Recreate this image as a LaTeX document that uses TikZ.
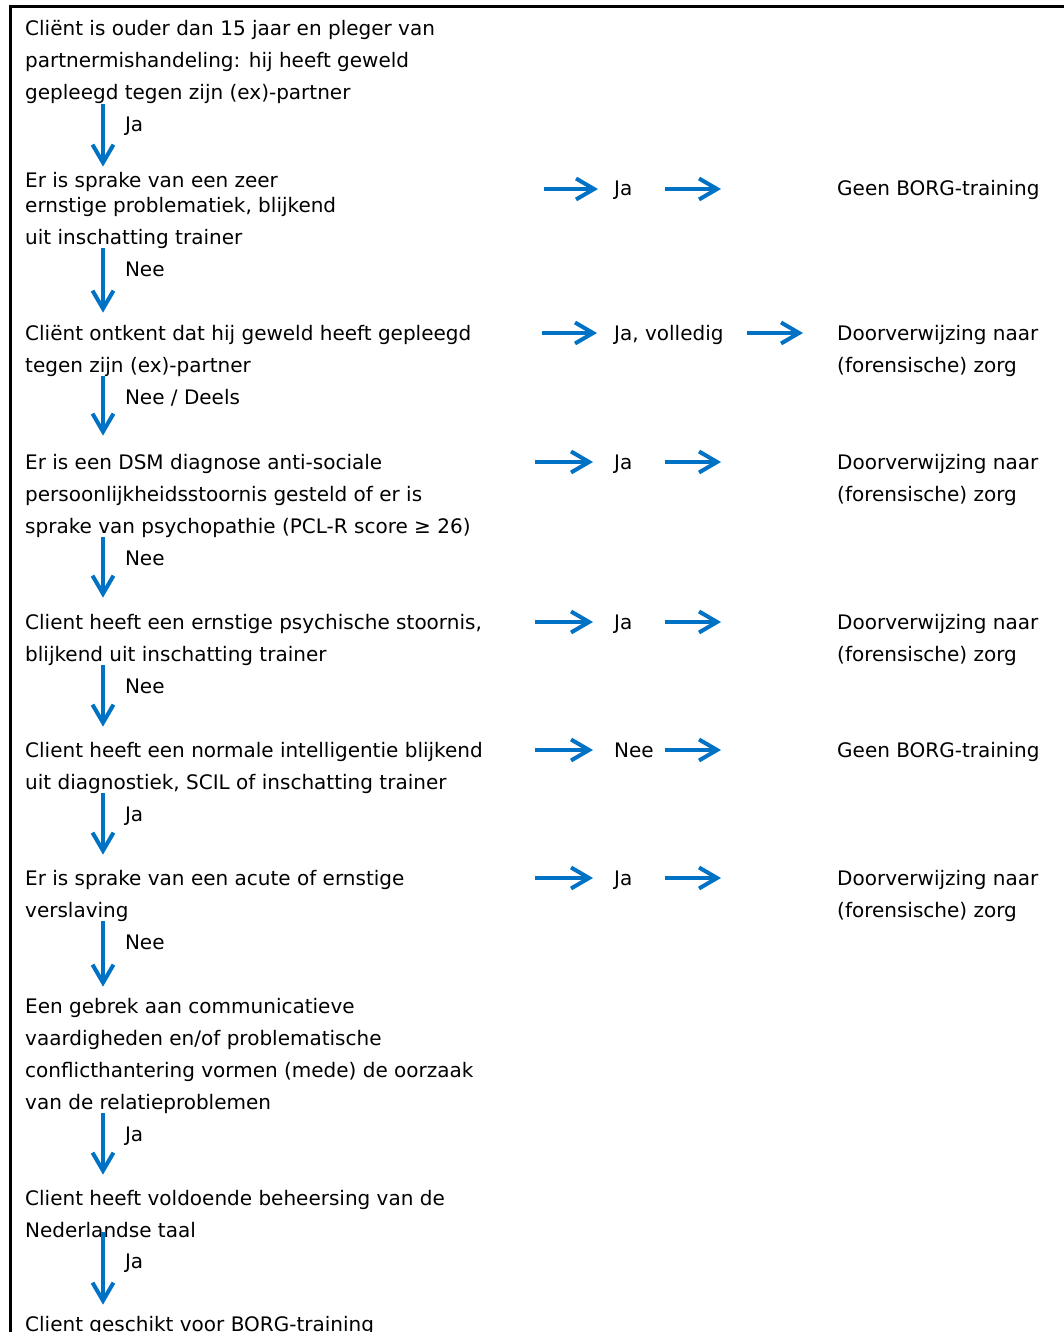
\documentclass[tikz,border=0pt]{standalone}
\usepackage{fontspec}
\setmainfont{DejaVu Sans}
\usetikzlibrary{arrows.meta,calc,positioning}
\definecolor{flowblue}{RGB}{0,114,198}
\tikzset{
    block/.style =  {anchor=base west,
                    align=left,
                    inner sep=0pt,
                    text=black,
                    font=\fontsize{20}{32}\selectfont},
    decision/.style={anchor=base west,
                    inner sep=0pt,
                    text=black,
                    text height=14pt,
                    text depth=0pt,
                    font=\fontsize{20}{32}\selectfont},
    outcome/.style ={block},
    answer/.style = {anchor=base west,
                    inner sep=0pt,
                    xshift=20pt,
                    text=black,
                    font=\fontsize{20}{32}\selectfont},
    -,
    flow/.style =   {draw=flowblue,
                    line width=4pt,
                    -{Straight Barb[length=18pt,width=21pt]}},
    downflow/.style={flow,
                    shorten >=#1},
    downflow/.default=15pt,
    boxline/.style ={draw=black,
                    line width=3pt}}

\begin{document}
\begin{tikzpicture}[x=1pt,y=-1pt]
    \useasboundingbox (0,0) rectangle (1064,1332);
    \draw[boxline] (10.5,1345) |- (1070,6.5);

    \node[block] (b1) at (25,100)  {Cliënt is ouder dan 15 jaar en pleger van\\partnermishandeling: hij heeft geweld\\gepleegd tegen zijn (ex)-partner};
    \node[block] (b2) at (25,244)  {Er is sprake van een zeer\\[-7pt]ernstige problematiek, blijkend\\uit inschatting trainer};
    \node[block] (b3) at (25,372)  {Cliënt ontkent dat hij geweld heeft gepleegd\\tegen zijn (ex)-partner};
    \node[block] (b4) at (25,533)  {Er is een DSM diagnose anti-sociale\\persoonlijkheidsstoornis gesteld of er is\\sprake van psychopathie (PCL-R score ≥ 26)};
    \node[block] (b5) at (25,661)  {Client heeft een ernstige psychische stoornis,\\blijkend uit inschatting trainer};
    \node[block] (b6) at (25,789)  {Client heeft een normale intelligentie blijkend\\uit diagnostiek, SCIL of inschatting trainer};
    \node[block] (b7) at (25,917)  {Er is sprake van een acute of ernstige\\verslaving};
    \node[block] (b8) at (25,1109) {Een gebrek aan communicatieve\\vaardigheden en/of problematische\\conflicthantering vormen (mede) de oorzaak\\van de relatieproblemen};
    \node[block] (b9) at (25,1237) {Client heeft voldoende beheersing van de\\Nederlandse taal};
    \node[block] (b10) at (25,1331) {Client geschikt voor BORG-training};

    \draw[downflow=5pt]  ([xshift=78pt]b1.south west) -- ([xshift=78pt]b2.north west) node[answer,pos=.4] {Ja};
    \draw[downflow=12pt] ([xshift=78pt]b2.south west) -- ([xshift=78pt]b3.north west) node[answer,pos=.37] {Nee};
    \draw[downflow=18pt] ([xshift=78pt]b3.south west) -- ([xshift=78pt]b4.north west) node[answer,pos=.37] {Nee / Deels};
    \draw[downflow=16pt] ([xshift=78pt]b4.south west) -- ([xshift=78pt]b5.north west) node[answer,pos=.37] {Nee};
    \draw[downflow]      ([xshift=78pt]b5.south west) -- ([xshift=78pt]b6.north west) node[answer,pos=.37] {Nee};
    \draw[downflow]      ([xshift=78pt]b6.south west) -- ([xshift=78pt]b7.north west) node[answer,pos=.37] {Ja};
    \draw[downflow=11pt] ([xshift=78pt]b7.south west) -- ([xshift=78pt]b8.north west) node[answer,pos=.37] {Nee};
    \draw[downflow]      ([xshift=78pt]b8.south west) -- ([xshift=78pt]b9.north west) node[answer,pos=.37] {Ja};
    \draw[downflow=11pt,shorten <=-5pt] ([xshift=78pt]b9.south west) -- ([xshift=78pt]b10.north west) node[answer,pos=.4] {Ja};

    \node[decision] (d2) at (614,196) {Ja};
    \node[outcome]  (o2) at (837,196) {Geen BORG-training};
    \node[decision] (d3) at (614,340) {Ja, volledig};
    \node[outcome]  (o3) at (837,372) {Doorverwijzing naar\\(forensische) zorg};
    \node[decision] (d4) at (614,469) {Ja};
    \node[outcome]  (o4) at (837,501) {Doorverwijzing naar\\(forensische) zorg};
    \node[decision] (d5) at (614,629) {Ja};
    \node[outcome]  (o5) at (837,661) {Doorverwijzing naar\\(forensische) zorg};
    \node[decision] (d6) at (614,757) {Nee};
    \node[outcome]  (o6) at (837,757) {Geen BORG-training};
    \node[decision] (d7) at (614,885) {Ja};
    \node[outcome]  (o7) at (837,917) {Doorverwijzing naar\\(forensische) zorg};

    \draw[flow] ([xshift=-70pt]d2.west) -- ([xshift=-16pt]d2.west);
    \draw[flow] ([xshift=51pt]d2.west)  -- ($(d2.west -| o2.west)+(-116,0)$);
    \draw[flow] ([xshift=-72pt]d3.west) -- ([xshift=-17pt]d3.west);
    \draw[flow] ([xshift=133pt]d3.west) -- ($(d3.west -| o3.west)+(-34,0)$);
    \draw[flow] ([xshift=-79pt]d4.west) -- ([xshift=-21pt]d4.west);
    \draw[flow] ([xshift=51pt]d4.west)  -- ($(d4.west -| o4.west)+(-116,0)$);
    \draw[flow] ([xshift=-79pt]d5.west) -- ([xshift=-21pt]d5.west);
    \draw[flow] ([xshift=51pt]d5.west)  -- ($(d5.west -| o5.west)+(-116,0)$);
    \draw[flow] ([xshift=-79pt]d6.west) -- ([xshift=-21pt]d6.west);
    \draw[flow] ([xshift=51pt]d6.west)  -- ($(d6.west -| o6.west)+(-116,0)$);
    \draw[flow] ([xshift=-79pt]d7.west) -- ([xshift=-21pt]d7.west);
    \draw[flow] ([xshift=51pt]d7.west)  -- ($(d7.west -| o7.west)+(-116,0)$);
\end{tikzpicture}
\end{document}
